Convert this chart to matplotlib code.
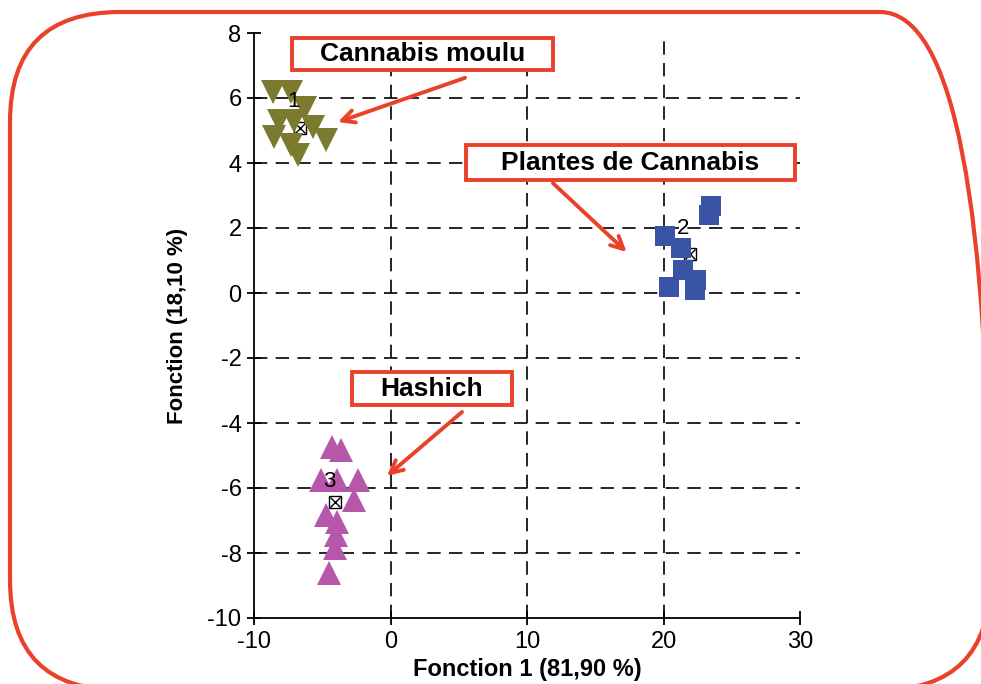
import matplotlib.pyplot as plt
from matplotlib.patches import FancyBboxPatch, Rectangle
from matplotlib.transforms import IdentityTransform

plt.rcParams['font.family'] = ['Liberation Sans', 'DejaVu Sans']

# discriminant scores, one array pair per group
moulu_x = [-8.6, -7.3, -6.3, -8.2, -7.1, -5.7, -4.7, -8.5, -7.3, -6.8]
moulu_y = [6.18, 6.18, 5.7, 5.3, 5.3, 5.1, 4.7, 4.8, 4.55, 4.25]

plantes_x = [23.5, 23.3, 20.1, 21.25, 21.4, 22.4, 20.4, 22.3]
plantes_y = [2.68, 2.4, 1.75, 1.38, 0.72, 0.4, 0.18, 0.09]

hashich_x = [-4.3, -3.6, -5.1, -3.9, -2.35, -2.7, -4.7, -3.9, -4.0, -4.1, -4.5]
hashich_y = [-4.74, -4.83, -5.75, -5.75, -5.75, -6.37, -6.83, -7.05, -7.45, -7.85, -8.6]

# group centroids and their numbers
centroid_x = [-6.6, 21.95, -4.07]
centroid_y = [5.08, 1.2, -6.43]
group_ids = ['1', '2', '3']
id_x = [-7.1, 21.4, -4.5]
id_y = [5.9, 2.0, -5.8]

xticks = [-10, 0, 10, 20, 30]
yticks = [8, 6, 4, 2, 0, -2, -4, -6, -8, -10]

red = '#ea412b'

fig = plt.figure(figsize=(9.81, 6.84), dpi=100)
ax = fig.add_axes([254 / 981, 1 - 618 / 684, 546 / 981, 585 / 684])

# dashed grid on the inner ticks only
for v in xticks[1:-1]:
    ax.axvline(v, color='black', lw=1.2, ls=(0, (8, 5)), zorder=1)
for v in yticks[1:-1]:
    ax.axhline(v, color='black', lw=1.2, ls=(0, (8, 5)), zorder=1)

# centroids sit under the group markers
ax.plot(centroid_x, centroid_y, 's', ms=9, mfc='white', mec='black', mew=1, zorder=2)
ax.plot(centroid_x, centroid_y, 'x', ms=7, color='black', mew=1, zorder=2.1)

ax.plot(moulu_x, moulu_y, 'v', ms=17, color='#7b7a2e', mew=0, zorder=3)
ax.plot(plantes_x, plantes_y, 's', ms=15, color='#3a54a5', mew=0, zorder=3)
ax.plot(hashich_x, hashich_y, '^', ms=17, color='#b757a9', mew=0, zorder=3)

for gx, gy, g in zip(id_x, id_y, group_ids):
    ax.text(gx, gy, g, fontsize=16, ha='center', va='center', zorder=6)

# labelled boxes with arrows
boxes = [
    ('Cannabis moulu', -7.2, 6.86, 19.1, 0.99, (-3.85, 5.26), (5.46, 6.62)),
    ('Plantes de Cannabis', 5.53, 3.48, 24.07, 1.07, (17.3, 1.26), (11.9, 3.38)),
    ('Hashich', -2.82, -3.45, 11.72, 1.02, (-0.26, -5.63), (5.24, -3.66)),
]
for label, bx, by, bw, bh, tip, tail in boxes:
    ax.add_patch(Rectangle((bx, by), bw, bh, facecolor='white', edgecolor=red,
                           lw=2.8, zorder=7, clip_on=False))
    ax.text(bx + bw / 2, by + bh / 2, label, fontsize=19, fontweight='bold',
            ha='center', va='center', zorder=8)
    ax.annotate('', xy=tip, xytext=tail, zorder=7,
                arrowprops=dict(arrowstyle='->,head_length=0.9,head_width=0.45',
                                color=red, lw=2.8, shrinkA=0, shrinkB=0))

ax.set_xlim(-10, 30)
ax.set_ylim(-10, 8)
ax.set_xticks(xticks)
ax.set_yticks(yticks)
ax.set_xticklabels(['-10', '0', '10', '20', '30'])
ax.set_yticklabels([str(t) for t in yticks])
ax.tick_params(direction='inout', length=10, width=1.3, labelsize=17, pad=4)
ax.spines['top'].set_visible(False)
ax.spines['right'].set_visible(False)
for s in ('left', 'bottom'):
    ax.spines[s].set_linewidth(1.3)

ax.set_xlabel('Fonction 1 (81,90 %)', fontsize=17, fontweight='bold', labelpad=4)
ax.set_ylabel('Fonction (18,10 %)', fontsize=16, fontweight='bold', labelpad=14)

# rounded red frame around the whole figure, in pixels
frame = FancyBboxPatch((10, -6), 980, 678, boxstyle='round,pad=0,rounding_size=110',
                       transform=IdentityTransform(), facecolor='none',
                       edgecolor=red, lw=3)
fig.patches.append(frame)

fig.savefig('out.png', dpi=100)
